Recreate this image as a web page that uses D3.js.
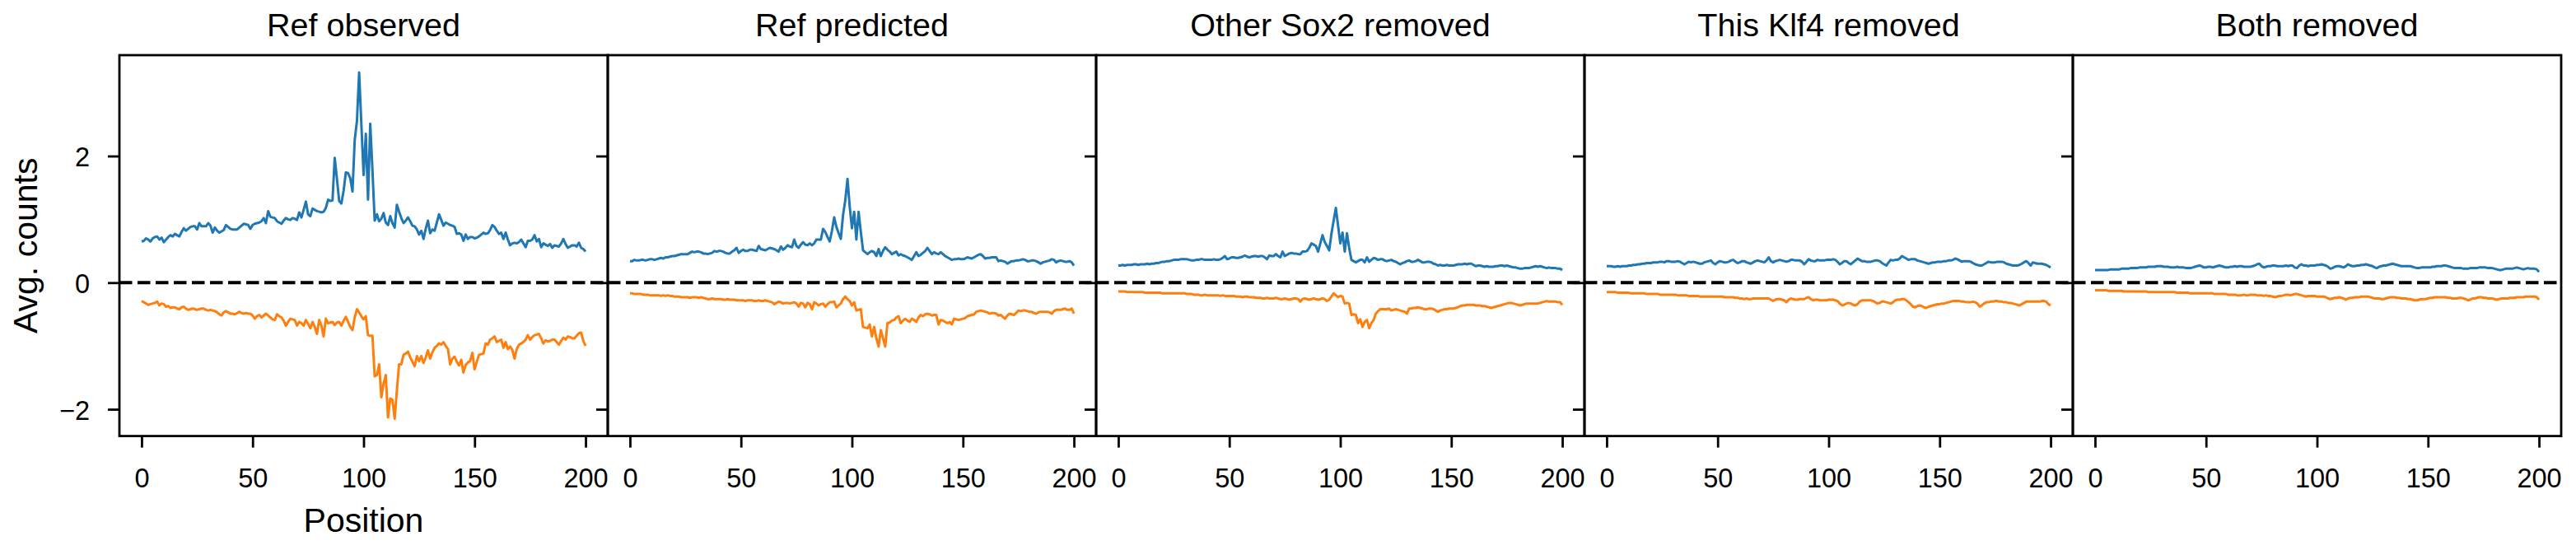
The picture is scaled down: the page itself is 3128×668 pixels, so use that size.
<!DOCTYPE html>
<html>
<head>
<meta charset="utf-8">
<script src="https://cdn.jsdelivr.net/npm/d3@7"></script>
<style>
  html, body { margin: 0; padding: 0; background: #ffffff; }
  svg { display: block; }
  text { font-family: "Liberation Sans", Arial, Helvetica, sans-serif; fill: #000; }
</style>
</head>
<body>
<svg id="chart" width="3128" height="668"></svg>
<script>
// ---------------- data ----------------
const panelTitles = ["Ref observed", "Ref predicted", "Other Sox2 removed", "This Klf4 removed", "Both removed"];
const positions = d3.range(0, 201);
const xTicks = [0, 50, 100, 150, 200];
const yTicks = [-2, 0, 2];
const xLabel = "Position";
const yLabel = "Avg. counts";

const refObservedPos = [
 .65,.66,.70,.68,.65,.70,.72,.73,.68,.71,
 .64,.68,.72,.75,.73,.77,.75,.73,.80,.86,
 .82,.85,.88,.89,.89,.84,.94,.89,.89,.89,
 .94,.90,.79,.87,.82,.79,.81,.83,.91,.88,
 .85,.84,.84,.84,.87,.90,.93,.92,.91,.85,
 .91,.93,.94,.95,.97,1.02,.94,1.13,1.04,1.03,
 1.02,.97,.95,.93,.98,1.02,1.00,.99,1.02,1.01,
 .99,1.11,1.03,1.15,1.28,1.08,1.05,1.17,1.15,1.13,
 1.12,1.11,1.12,1.18,1.31,1.29,1.30,1.97,1.64,1.29,
 1.25,1.45,1.74,1.73,1.65,1.44,2.25,2.55,3.32,2.50,
 1.70,2.35,1.31,2.51,1.77,.98,1.08,.97,1.01,1.10,
 .95,.91,1.05,.94,.87,1.23,1.12,1.02,.94,.98,
 1.03,.97,.90,.89,.84,.76,.82,.69,.85,.98,
 .78,.84,.82,.95,1.08,.99,.90,.95,.93,.91,
 .90,.88,.77,.78,.76,.66,.76,.69,.72,.72,
 .70,.71,.73,.76,.79,.77,.78,.83,.91,.88,
 .82,.77,.79,.69,.79,.68,.59,.62,.63,.62,
 .64,.68,.62,.56,.66,.66,.68,.75,.65,.69,
 .56,.62,.60,.58,.61,.55,.59,.58,.57,.62,
 .69,.61,.55,.57,.59,.59,.57,.63,.55,.53,
 .49];
const refObservedNeg = [
 -.29,-.31,-.33,-.35,-.34,-.33,-.32,-.30,-.36,-.33,
 -.34,-.38,-.37,-.40,-.39,-.39,-.41,-.42,-.39,-.38,
 -.41,-.43,-.42,-.41,-.42,-.43,-.42,-.41,-.41,-.43,
 -.44,-.43,-.44,-.45,-.47,-.50,-.52,-.47,-.45,-.47,
 -.49,-.49,-.50,-.48,-.46,-.48,-.49,-.48,-.49,-.49,
 -.52,-.57,-.53,-.51,-.55,-.52,-.49,-.52,-.55,-.58,
 -.59,-.50,-.53,-.55,-.60,-.68,-.62,-.57,-.58,-.59,
 -.68,-.62,-.64,-.68,-.59,-.65,-.72,-.62,-.70,-.81,
 -.59,-.68,-.85,-.57,-.64,-.63,-.62,-.67,-.63,-.62,
 -.68,-.60,-.54,-.62,-.70,-.75,-.55,-.42,-.47,-.53,
 -.58,-.53,-.83,-.84,-.84,-1.48,-1.46,-1.29,-1.81,-1.60,
 -1.46,-2.13,-1.83,-1.85,-2.15,-1.70,-1.29,-1.29,-1.14,-1.12,
 -1.09,-1.18,-1.25,-1.32,-1.16,-1.24,-1.16,-1.27,-1.18,-1.07,
 -1.20,-1.10,-1.03,-1.00,-.96,-.98,-.94,-1.00,-1.05,-1.29,
 -1.20,-1.17,-1.25,-1.31,-1.22,-1.42,-1.30,-1.26,-1.24,-1.11,
 -1.37,-1.25,-1.14,-1.13,-1.12,-.96,-.98,-.90,-.88,-.85,
 -.94,-.92,-.90,-1.03,-.94,-1.05,-1.01,-1.06,-1.20,-1.05,
 -.98,-.96,-.94,-.90,-.83,-.90,-.86,-.83,-.82,-.81,
 -.88,-.96,-.91,-.93,-.92,-.90,-.90,-.94,-.98,-.92,
 -.87,-.90,-.85,-.86,-.88,-.88,-.84,-.80,-.79,-.92,
 -1.00];

const refPredictedPos = [
 .34,.34,.36,.35,.35,.36,.36,.35,.36,.37,
 .37,.36,.37,.38,.39,.38,.40,.40,.41,.42,
 .42,.43,.44,.45,.45,.45,.45,.47,.49,.48,
 .49,.49,.48,.46,.46,.45,.46,.47,.50,.49,
 .50,.50,.49,.47,.46,.46,.49,.51,.55,.47,
 .50,.52,.50,.50,.52,.52,.51,.50,.58,.53,
 .52,.51,.53,.55,.54,.53,.51,.49,.57,.52,
 .55,.59,.57,.56,.68,.58,.55,.60,.64,.60,
 .59,.62,.59,.62,.68,.68,.68,.85,.80,.72,
 .65,.82,1.03,.88,.78,.69,1.07,1.30,1.64,1.20,
 .86,1.12,.68,1.12,.80,.51,.48,.45,.48,.50,
 .48,.42,.53,.42,.50,.56,.52,.49,.45,.47,
 .49,.43,.45,.43,.42,.40,.38,.36,.42,.48,
 .42,.44,.47,.50,.55,.50,.45,.48,.46,.45,
 .48,.45,.42,.40,.38,.36,.37,.37,.38,.37,
 .37,.38,.40,.39,.38,.40,.42,.44,.45,.42,
 .38,.39,.39,.40,.40,.40,.34,.35,.34,.33,
 .30,.32,.34,.34,.35,.35,.36,.37,.36,.34,
 .34,.35,.35,.34,.32,.30,.32,.33,.34,.35,
 .37,.36,.32,.34,.35,.34,.33,.33,.34,.32,
 .27];
const refPredictedNeg = [
 -.17,-.17,-.18,-.18,-.18,-.18,-.19,-.19,-.19,-.20,
 -.20,-.20,-.20,-.20,-.21,-.20,-.21,-.20,-.21,-.21,
 -.22,-.22,-.22,-.23,-.23,-.23,-.23,-.24,-.23,-.23,
 -.23,-.24,-.23,-.24,-.25,-.26,-.26,-.25,-.26,-.26,
 -.26,-.26,-.27,-.27,-.26,-.27,-.27,-.27,-.28,-.28,
 -.28,-.28,-.29,-.28,-.28,-.28,-.29,-.29,-.28,-.29,
 -.29,-.28,-.29,-.30,-.31,-.34,-.32,-.30,-.31,-.33,
 -.32,-.32,-.33,-.32,-.31,-.33,-.38,-.32,-.33,-.39,
 -.32,-.34,-.42,-.31,-.33,-.36,-.34,-.33,-.38,-.34,
 -.31,-.31,-.30,-.39,-.36,-.33,-.26,-.22,-.26,-.29,
 -.36,-.31,-.44,-.43,-.42,-.70,-.71,-.72,-.66,-.85,
 -.70,-.88,-1.01,-.75,-.88,-1.01,-.64,-.63,-.60,-.59,
 -.55,-.53,-.64,-.60,-.57,-.60,-.62,-.57,-.59,-.62,
 -.55,-.51,-.53,-.50,-.49,-.50,-.52,-.51,-.51,-.66,
 -.59,-.60,-.62,-.64,-.62,-.66,-.57,-.58,-.59,-.58,
 -.57,-.56,-.53,-.52,-.51,-.50,-.46,-.45,-.44,-.45,
 -.46,-.47,-.49,-.48,-.48,-.49,-.52,-.51,-.54,-.57,
 -.52,-.49,-.50,-.51,-.48,-.44,-.45,-.44,-.44,-.45,
 -.46,-.46,-.48,-.49,-.47,-.46,-.46,-.46,-.46,-.47,
 -.49,-.45,-.43,-.43,-.43,-.42,-.41,-.43,-.43,-.41,
 -.49];

const otherSox2Pos = [
 .27,.27,.28,.27,.28,.28,.28,.29,.29,.28,
 .29,.29,.29,.30,.29,.30,.30,.31,.31,.32,
 .33,.33,.34,.34,.35,.36,.36,.36,.37,.37,
 .37,.37,.36,.35,.35,.36,.36,.37,.37,.36,
 .36,.36,.36,.37,.36,.36,.37,.39,.42,.37,
 .38,.40,.40,.39,.39,.40,.41,.43,.41,.40,
 .41,.42,.42,.41,.42,.42,.40,.37,.43,.42,
 .42,.45,.42,.40,.49,.42,.44,.46,.47,.46,
 .46,.45,.45,.49,.49,.50,.55,.62,.60,.58,
 .49,.62,.75,.64,.58,.51,.77,.98,1.18,.90,
 .62,.79,.49,.78,.55,.36,.34,.32,.34,.36,
 .36,.32,.40,.33,.36,.39,.38,.36,.37,.37,
 .35,.34,.35,.36,.34,.33,.31,.29,.31,.32,
 .34,.35,.33,.33,.34,.36,.34,.32,.32,.33,
 .33,.32,.30,.29,.27,.28,.27,.27,.28,.27,
 .27,.27,.28,.29,.29,.29,.30,.29,.30,.30,
 .28,.26,.27,.27,.26,.25,.26,.25,.25,.25,
 .26,.26,.27,.27,.26,.27,.26,.25,.24,.24,
 .23,.22,.22,.23,.23,.23,.24,.25,.26,.25,
 .26,.25,.24,.23,.24,.23,.23,.23,.22,.22,
 .20];
const otherSox2Neg = [
 -.14,-.14,-.14,-.14,-.15,-.15,-.15,-.15,-.15,-.15,
 -.15,-.15,-.16,-.16,-.16,-.16,-.16,-.16,-.16,-.16,
 -.17,-.17,-.17,-.17,-.17,-.17,-.17,-.17,-.17,-.17,
 -.17,-.18,-.18,-.18,-.19,-.19,-.19,-.20,-.20,-.19,
 -.20,-.20,-.20,-.20,-.20,-.20,-.21,-.20,-.21,-.21,
 -.21,-.21,-.21,-.22,-.22,-.22,-.23,-.22,-.22,-.23,
 -.23,-.23,-.24,-.24,-.24,-.25,-.25,-.24,-.25,-.25,
 -.25,-.24,-.25,-.26,-.26,-.25,-.26,-.27,-.26,-.25,
 -.25,-.26,-.30,-.26,-.25,-.26,-.27,-.26,-.25,-.26,
 -.27,-.26,-.25,-.26,-.29,-.27,-.22,-.17,-.20,-.23,
 -.21,-.22,-.33,-.32,-.33,-.51,-.50,-.51,-.64,-.58,
 -.70,-.62,-.59,-.72,-.64,-.59,-.49,-.45,-.42,-.42,
 -.42,-.42,-.41,-.44,-.43,-.42,-.43,-.44,-.45,-.46,
 -.49,-.41,-.41,-.40,-.40,-.39,-.40,-.41,-.42,-.42,
 -.41,-.41,-.42,-.44,-.46,-.44,-.43,-.42,-.42,-.41,
 -.41,-.41,-.40,-.39,-.37,-.36,-.36,-.35,-.35,-.35,
 -.35,-.36,-.36,-.36,-.37,-.37,-.38,-.39,-.40,-.39,
 -.38,-.37,-.36,-.35,-.34,-.33,-.32,-.32,-.33,-.34,
 -.35,-.36,-.35,-.34,-.33,-.33,-.33,-.33,-.33,-.33,
 -.32,-.31,-.30,-.29,-.30,-.30,-.30,-.30,-.31,-.31,
 -.35];

const thisKlf4Pos = [
 .26,.26,.26,.25,.25,.26,.25,.26,.26,.26,
 .27,.27,.28,.28,.29,.29,.30,.30,.31,.31,
 .31,.32,.32,.32,.33,.33,.32,.34,.34,.33,
 .33,.33,.34,.33,.31,.29,.31,.33,.32,.33,
 .32,.31,.30,.30,.32,.33,.34,.35,.31,.29,
 .32,.34,.33,.32,.32,.33,.35,.36,.33,.31,
 .32,.34,.34,.32,.31,.30,.32,.34,.35,.34,
 .33,.32,.35,.40,.34,.32,.34,.35,.36,.35,
 .34,.33,.34,.36,.36,.35,.35,.35,.33,.29,
 .33,.37,.35,.34,.34,.36,.35,.35,.35,.36,
 .36,.36,.37,.36,.33,.29,.31,.34,.34,.31,
 .29,.32,.35,.38,.36,.34,.34,.33,.33,.33,
 .34,.35,.35,.34,.31,.29,.27,.32,.36,.35,
 .36,.36,.38,.42,.40,.38,.36,.37,.37,.37,
 .35,.34,.33,.32,.31,.30,.31,.32,.32,.33,
 .33,.33,.34,.34,.35,.35,.36,.38,.37,.35,
 .33,.34,.34,.34,.33,.31,.29,.28,.27,.27,
 .29,.31,.33,.32,.32,.32,.33,.33,.33,.32,
 .30,.29,.28,.27,.27,.27,.28,.30,.32,.34,
 .31,.27,.32,.31,.30,.30,.30,.29,.28,.26,
 .24];
const thisKlf4Neg = [
 -.15,-.15,-.15,-.15,-.15,-.16,-.16,-.16,-.16,-.16,
 -.16,-.17,-.17,-.17,-.17,-.17,-.17,-.17,-.18,-.18,
 -.18,-.18,-.18,-.18,-.19,-.19,-.19,-.19,-.19,-.19,
 -.19,-.19,-.20,-.20,-.20,-.20,-.20,-.21,-.21,-.21,
 -.21,-.21,-.22,-.22,-.22,-.22,-.22,-.22,-.22,-.22,
 -.22,-.22,-.22,-.23,-.23,-.23,-.23,-.23,-.24,-.24,
 -.25,-.25,-.26,-.25,-.26,-.26,-.25,-.25,-.25,-.25,
 -.25,-.25,-.25,-.25,-.27,-.29,-.27,-.26,-.26,-.27,
 -.28,-.31,-.27,-.25,-.26,-.27,-.27,-.26,-.26,-.26,
 -.24,-.23,-.26,-.28,-.27,-.27,-.28,-.28,-.28,-.28,
 -.27,-.27,-.27,-.28,-.29,-.33,-.36,-.35,-.33,-.32,
 -.33,-.35,-.36,-.34,-.30,-.28,-.28,-.28,-.28,-.28,
 -.29,-.31,-.33,-.32,-.30,-.30,-.31,-.32,-.33,-.31,
 -.28,-.27,-.27,-.26,-.26,-.28,-.31,-.34,-.38,-.39,
 -.37,-.36,-.37,-.39,-.40,-.38,-.37,-.36,-.35,-.34,
 -.34,-.33,-.33,-.32,-.31,-.30,-.29,-.29,-.29,-.29,
 -.30,-.30,-.31,-.31,-.31,-.30,-.31,-.33,-.38,-.36,
 -.33,-.31,-.31,-.30,-.30,-.29,-.29,-.30,-.30,-.31,
 -.31,-.32,-.32,-.33,-.34,-.35,-.36,-.34,-.32,-.30,
 -.30,-.30,-.30,-.30,-.30,-.30,-.29,-.29,-.30,-.34,
 -.36];

const bothRemovedPos = [
 .20,.20,.20,.20,.20,.20,.20,.21,.21,.21,
 .21,.21,.22,.22,.22,.22,.23,.23,.23,.23,
 .24,.24,.24,.24,.25,.25,.25,.25,.26,.26,
 .26,.25,.25,.25,.24,.24,.24,.25,.24,.24,
 .24,.23,.23,.23,.24,.25,.26,.27,.26,.24,
 .24,.25,.25,.24,.25,.26,.27,.26,.25,.24,
 .24,.25,.25,.26,.25,.26,.26,.25,.25,.25,
 .25,.26,.27,.29,.30,.26,.24,.25,.26,.26,
 .27,.27,.26,.26,.26,.26,.27,.26,.27,.27,
 .24,.23,.27,.29,.27,.27,.26,.27,.27,.27,
 .28,.28,.29,.28,.27,.25,.22,.23,.25,.26,
 .26,.25,.24,.26,.29,.27,.26,.26,.27,.27,
 .28,.28,.29,.28,.27,.26,.24,.23,.25,.26,
 .27,.27,.28,.29,.30,.29,.28,.27,.26,.26,
 .26,.26,.26,.25,.24,.23,.23,.24,.24,.24,
 .24,.24,.25,.25,.26,.26,.26,.27,.27,.26,
 .25,.24,.23,.23,.23,.23,.22,.22,.22,.23,
 .23,.23,.23,.24,.24,.24,.24,.23,.23,.23,
 .22,.21,.20,.20,.21,.22,.22,.22,.22,.23,
 .24,.23,.22,.21,.22,.23,.22,.22,.22,.21,
 .17];
const bothRemovedNeg = [
 -.12,-.12,-.12,-.12,-.12,-.12,-.13,-.13,-.13,-.13,
 -.13,-.13,-.13,-.14,-.14,-.14,-.14,-.14,-.14,-.14,
 -.14,-.14,-.14,-.14,-.15,-.15,-.15,-.15,-.15,-.15,
 -.15,-.15,-.15,-.15,-.15,-.15,-.15,-.16,-.16,-.16,
 -.16,-.16,-.16,-.17,-.17,-.17,-.17,-.17,-.17,-.17,
 -.17,-.17,-.17,-.17,-.18,-.18,-.18,-.18,-.18,-.18,
 -.19,-.19,-.19,-.19,-.20,-.20,-.20,-.19,-.20,-.20,
 -.19,-.19,-.19,-.20,-.20,-.20,-.21,-.20,-.21,-.21,
 -.22,-.23,-.22,-.21,-.21,-.20,-.19,-.19,-.20,-.19,
 -.18,-.18,-.19,-.20,-.21,-.22,-.21,-.21,-.21,-.21,
 -.22,-.22,-.22,-.22,-.23,-.25,-.26,-.25,-.24,-.24,
 -.23,-.24,-.25,-.27,-.25,-.24,-.24,-.23,-.23,-.23,
 -.22,-.22,-.22,-.22,-.23,-.24,-.25,-.25,-.25,-.26,
 -.26,-.25,-.24,-.23,-.23,-.23,-.24,-.24,-.25,-.25,
 -.25,-.26,-.26,-.27,-.28,-.28,-.27,-.26,-.26,-.26,
 -.25,-.24,-.24,-.23,-.23,-.23,-.23,-.23,-.23,-.24,
 -.24,-.25,-.25,-.25,-.24,-.24,-.25,-.26,-.28,-.27,
 -.25,-.25,-.24,-.23,-.23,-.24,-.24,-.25,-.25,-.25,
 -.26,-.27,-.26,-.25,-.25,-.25,-.25,-.24,-.24,-.24,
 -.23,-.23,-.23,-.23,-.22,-.22,-.22,-.22,-.22,-.23,
 -.27];

const posSeries = [refObservedPos, refPredictedPos, otherSox2Pos, thisKlf4Pos, bothRemovedPos];
const negSeries = [refObservedNeg, refPredictedNeg, otherSox2Neg, thisKlf4Neg, bothRemovedNeg];

// ---------------- layout ----------------
const svg = d3.select("#chart");
svg.append("rect").attr("width", 3128).attr("height", 668).attr("fill", "#fff");

const mLeft = 145, mTop = 67, panelW = 593, panelH = 462.6;
const colorPos = "#1f77b4", colorNeg = "#ff7f0e";
const spineW = 2.8, tickLen = 14;

// shared y extent with matplotlib-style 5% margin
const allVals = posSeries.flat().concat(negSeries.flat());
const yMin = d3.min(allVals), yMax = d3.max(allVals);
const yPad = (yMax - yMin) * 0.05;
const xMin = d3.min(positions), xMax = d3.max(positions);
const xPad = (xMax - xMin) * 0.05;

const xScale = d3.scaleLinear().domain([xMin - xPad, xMax + xPad]).range([0, panelW]);
const yScale = d3.scaleLinear().domain([yMin - yPad, yMax + yPad]).range([panelH, 0]);

const lineGen = d3.line().x((d, i) => xScale(positions[i])).y(d => yScale(d));

panelTitles.forEach((title, p) => {
  const g = svg.append("g").attr("transform", `translate(${mLeft + p * panelW},${mTop})`);

  // data lines
  g.append("path").datum(posSeries[p]).attr("d", lineGen)
    .attr("fill", "none").attr("stroke", colorPos).attr("stroke-width", 3)
    .attr("stroke-linejoin", "round");
  g.append("path").datum(negSeries[p]).attr("d", lineGen)
    .attr("fill", "none").attr("stroke", colorNeg).attr("stroke-width", 3)
    .attr("stroke-linejoin", "round");

  // dashed zero line
  g.append("line")
    .attr("x1", 0).attr("x2", panelW)
    .attr("y1", yScale(0)).attr("y2", yScale(0))
    .attr("stroke", "#000").attr("stroke-width", 4)
    .attr("stroke-dasharray", "15.5,6.5");

  // x axis
  const xa = g.append("g").attr("transform", `translate(0,${panelH})`)
    .call(d3.axisBottom(xScale).tickValues(xTicks).tickSize(tickLen).tickFormat(d3.format("d")));
  xa.select(".domain").remove();
  xa.selectAll(".tick line").attr("stroke", "#000").attr("stroke-width", spineW);
  xa.selectAll(".tick text")
    .attr("y", 62.4).attr("dy", 0)
    .style("font-size", "32.5px")
    .style("font-family", "'Liberation Sans', Arial, sans-serif")
    .attr("fill", "#000");

  // y axis (ticks on all, labels only first)
  const ya = g.append("g")
    .call(d3.axisLeft(yScale).tickValues(yTicks).tickSize(tickLen)
      .tickFormat(p === 0 ? d3.format("d") : () => ""));
  ya.select(".domain").remove();
  ya.selectAll(".tick line").attr("stroke", "#000").attr("stroke-width", spineW);
  ya.selectAll(".tick text")
    .attr("x", -36).attr("dy", "0.37em")
    .style("font-size", "32.5px")
    .style("font-family", "'Liberation Sans', Arial, sans-serif")
    .attr("fill", "#000");

  // frame
  g.append("rect")
    .attr("x", 0).attr("y", 0).attr("width", panelW).attr("height", panelH)
    .attr("fill", "none").attr("stroke", "#000").attr("stroke-width", spineW);

  // title
  g.append("text")
    .attr("x", panelW / 2).attr("y", 44 - mTop)
    .attr("text-anchor", "middle")
    .style("font-size", "39.5px")
    .text(title);
});

// axis labels on the first panel
svg.append("text")
  .attr("x", mLeft + panelW / 2).attr("y", 646)
  .attr("text-anchor", "middle")
  .style("font-size", "41px")
  .text(xLabel);

svg.append("text")
  .attr("transform", `translate(45,${mTop + panelH / 2}) rotate(-90)`)
  .attr("text-anchor", "middle")
  .style("font-size", "41px")
  .text(yLabel);
</script>
</body>
</html>
